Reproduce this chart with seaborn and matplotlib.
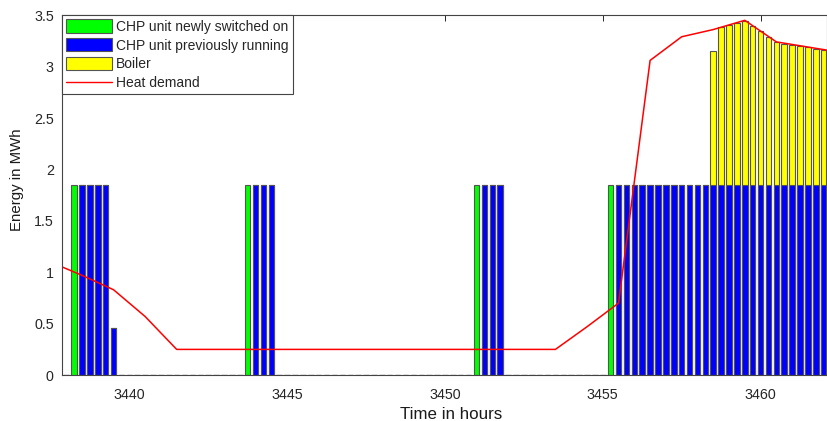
import numpy as np
import pandas as pd
import matplotlib
matplotlib.use("Agg")
import matplotlib.pyplot as plt
import seaborn as sns
from matplotlib.patches import Patch
from matplotlib.lines import Line2D

# ---------------- data ----------------
# quarter-hour time grid (hours)
time_grid = np.round(np.arange(3438.0, 3462.01, 0.25), 2)

chp_new_times = [3438.25, 3443.75, 3451.0, 3455.25]
chp_new_values = [1.85, 1.85, 1.85, 1.85]

chp_run_times = ([3438.5, 3438.75, 3439.0, 3439.25, 3439.5,
                  3444.0, 3444.25, 3444.5,
                  3451.25, 3451.5, 3451.75]
                 + [3455.5, 3455.75, 3456.0, 3456.25, 3456.5, 3456.75, 3457.0,
                    3457.25, 3457.5, 3457.75, 3458.0, 3458.25, 3458.5, 3458.75,
                    3459.0, 3459.25, 3459.5, 3459.75, 3460.0, 3460.25, 3460.5,
                    3460.75, 3461.0, 3461.25, 3461.5, 3461.75, 3462.0])
chp_run_values = ([1.85, 1.85, 1.85, 1.85, 0.46,
                   1.85, 1.85, 1.85,
                   1.85, 1.85, 1.85]
                  + [1.85] * 27)

boiler_times = [3458.5, 3458.75, 3459.0, 3459.25, 3459.5, 3459.75, 3460.0,
                3460.25, 3460.5, 3460.75, 3461.0, 3461.25, 3461.5, 3461.75, 3462.0]
boiler_values = [1.30, 1.535, 1.55, 1.57, 1.59, 1.54, 1.50,
                 1.44, 1.39, 1.37, 1.36, 1.35, 1.34, 1.325, 1.31]

demand_times = [3437.5, 3438.5, 3439.5, 3440.5, 3441.5, 3442.5, 3443.5, 3444.5,
                3445.5, 3446.5, 3447.5, 3448.5, 3449.5, 3450.5, 3451.5, 3452.5,
                3453.5, 3454.5, 3455.5, 3456.5, 3457.5, 3458.5, 3459.5, 3460.5,
                3461.5, 3462.5]
demand_values = [1.10, 0.97, 0.83, 0.57, 0.25, 0.25, 0.25, 0.25,
                 0.25, 0.25, 0.25, 0.25, 0.25, 0.25, 0.25, 0.25,
                 0.25, 0.47, 0.70, 3.06, 3.29, 3.36, 3.45, 3.24,
                 3.19, 3.14]

legend_labels = ["CHP unit newly switched on", "CHP unit previously running",
                 "Boiler", "Heat demand"]
x_ticks = [3440, 3445, 3450, 3455, 3460]
y_ticks = [0, 0.5, 1, 1.5, 2, 2.5, 3, 3.5]
y_tick_labels = ["0", "0.5", "1", "1.5", "2", "2.5", "3", "3.5"]


def on_grid(times, values):
    s = pd.Series(0.0, index=time_grid)
    for t, v in zip(times, values):
        s.loc[round(t, 2)] = v
    return s.values


green = on_grid(chp_new_times, chp_new_values)
blue = on_grid(chp_run_times, chp_run_values)
yellow = on_grid(boiler_times, boiler_values)
total_run = blue + yellow

# ---------------- plot ----------------
sns.set_theme(style="white")
plt.rcParams["font.family"] = ["Liberation Sans", "DejaVu Sans"]

fig = plt.figure(figsize=(8.28, 4.21), dpi=100)
ax = fig.add_axes([0.075, 0.109, 0.924, 0.855])

C_GREEN = (0, 1, 0)
C_BLUE = (0, 0, 1)
C_YEL = (1, 1, 0)
EDGE = (0.33, 0.33, 0.33)
bar_kw = dict(native_scale=True, width=0.7, errorbar=None, saturation=1,
              edgecolor=EDGE, linewidth=0.8, ax=ax)

df = pd.DataFrame({"t": time_grid, "green": green, "blue": blue,
                   "total": total_run})
sns.barplot(data=df, x="t", y="total", color=C_YEL, **bar_kw)
sns.barplot(data=df, x="t", y="blue", color=C_BLUE, **bar_kw)
sns.barplot(data=df, x="t", y="green", color=C_GREEN, **bar_kw)

dd = pd.DataFrame({"t": demand_times, "v": demand_values})
sns.lineplot(data=dd, x="t", y="v", color="red", linewidth=1.1, ax=ax)

ax.set_xlim(3437.87, 3462.11)
ax.set_ylim(0, 3.5)
ax.set_xticks(x_ticks)
ax.set_xticklabels([str(t) for t in x_ticks])
ax.set_yticks(y_ticks)
ax.set_yticklabels(y_tick_labels)
ax.tick_params(direction="in", length=4, width=0.7, colors="#262626",
               labelsize=10.3, top=True, right=True)
ax.tick_params(axis="x", pad=9.5)
ax.tick_params(axis="y", pad=6)
for sp in ax.spines.values():
    sp.set_color("#444444")
    sp.set_linewidth(0.8)

ax.set_xlabel("Time in hours", fontsize=12.2, color="#1a1a1a")
ax.xaxis.set_label_coords(0.509, -0.088)
ax.set_ylabel("Energy in MWh", fontsize=10.8, color="#1a1a1a")
ax.yaxis.set_label_coords(-0.05, 0.544)

handles = [Patch(facecolor=C_GREEN, edgecolor=EDGE, linewidth=0.8),
           Patch(facecolor=C_BLUE, edgecolor=EDGE, linewidth=0.8),
           Patch(facecolor=C_YEL, edgecolor=EDGE, linewidth=0.8),
           Line2D([0], [0], color="red", linewidth=1.0)]
leg = ax.legend(handles, legend_labels, loc="upper left", fontsize=10,
                frameon=True, fancybox=False, framealpha=1, edgecolor="#444444",
                borderaxespad=0, borderpad=0.3, labelspacing=0.32,
                handlelength=3.3, handleheight=1.1, handletextpad=0.3)
leg.get_frame().set_linewidth(0.8)

fig.savefig("out.png", dpi=100)
